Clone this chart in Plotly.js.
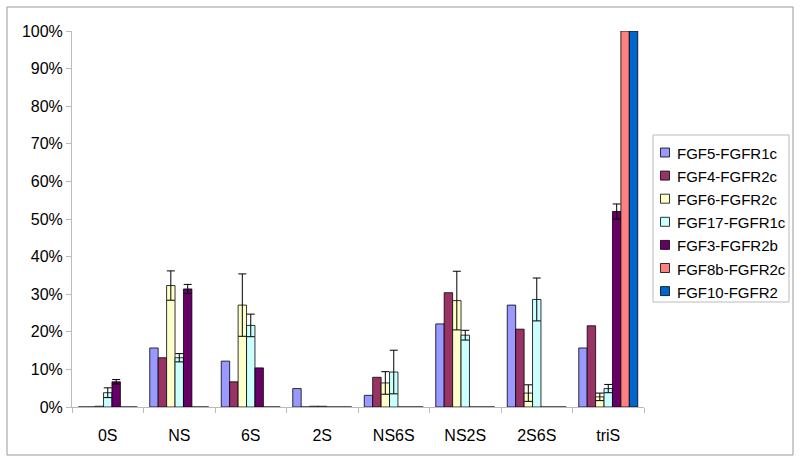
<!DOCTYPE html>
<html>
<head>
<meta charset="utf-8">
<script src="https://cdn.plot.ly/plotly-3.0.1.min.js"></script>
<style>
html,body{margin:0;padding:0;background:#fff;}
#chart{width:800px;height:463px;}
</style>
</head>
<body>
<div id="chart"></div>
<script>
const categories = ["0S","NS","6S","2S","NS6S","NS2S","2S6S","triS"];
const seriesNames = ["FGF5-FGFR1c","FGF4-FGFR2c","FGF6-FGFR2c","FGF17-FGFR1c","FGF3-FGFR2b","FGF8b-FGFR2c","FGF10-FGFR2"];
const seriesColors = ["#9999FF","#993366","#FFFFCC","#CCFFFF","#660066","#FF8080","#0066CC"];
// values in %
const fgf5  = [0,   15.7, 12.2, 4.9, 3.1, 22.1, 27.1, 15.7];
const fgf4  = [0,   13.1, 6.7,  0,   7.9, 30.4, 20.7, 21.6];
const fgf6  = [0.2, 32.3, 27.1, 0.2, 6.4, 28.3, 3.7,  2.7];
const fgf17 = [3.8, 13.1, 21.7, 0.2, 9.3, 19.1, 28.6, 4.9];
const fgf3  = [6.7, 31.4, 10.4, 0,   0,   0,    0,    52.0];
const fgf8b = [0,   0,    0,    0,   0,   0,    0,    100];
const fgf10 = [0,   0,    0,    0,   0,   0,    0,    100];
// error bars in % (null = none)
const err5  = [null,null,null,null,null,null,null,null];
const err4  = [null,null,null,null,null,null,null,null];
const err6  = [null,3.9, 8.3, null,3.0, 7.8, 2.2, 1.0];
const err17 = [1.3, 1.1, 3.0, null,5.8, 1.3, 5.7, 1.1];
const err3  = [0.6, 1.2, null,null,null,null,null,2.0];
const err8b = [null,null,null,null,null,null,null,null];
const err10 = [null,null,null,null,null,null,null,null];
const yTicks = [0,10,20,30,40,50,60,70,80,90,100];

const values = [fgf5,fgf4,fgf6,fgf17,fgf3,fgf8b,fgf10];
const errs = [err5,err4,err6,err17,err3,err8b,err10];

const traces = values.map((v,i)=>{
  const t = {
    type:'bar', name: seriesNames[i], x: categories, y: v.map(d=>d/100),
    marker:{color: seriesColors[i], line:{color:'#000', width:0.8}},
    showlegend:false
  };
  if (errs[i].some(e=>e!==null)) {
    t.error_y = {type:'data', array: errs[i].map(e=>e===null?NaN:e/100), visible:true, color:'#000', thickness:1, width:4, symmetric:true};
  }
  return t;
});

const L=72, R=156, T=31, B=56, W=800, H=463;
const pw = W-L-R, ph = H-T-B;
const px = x => (x-L)/pw;          // pixel -> paper x
const py = y => (H-B-y)/ph;        // pixel -> paper y

// legend drawn with shapes + annotations (box, swatches, labels)
const legBox = {x0:653, x1:789, y0:135, y1:302};
const legFirst = 152.5, legStep = 23.1;
const shapes = [
  {type:'rect', xref:'paper', yref:'paper', x0:px(7), x1:px(793), y0:py(455), y1:py(7),
   line:{color:'#999', width:1}, fillcolor:'rgba(0,0,0,0)', layer:'below'},
  {type:'rect', xref:'paper', yref:'paper', x0:px(legBox.x0), x1:px(legBox.x1), y0:py(legBox.y1), y1:py(legBox.y0),
   line:{color:'#bbb', width:1}, fillcolor:'#fff', layer:'above'}
];
const annotations = [];
seriesNames.forEach((n,i)=>{
  const cy = legFirst + i*legStep;
  shapes.push({type:'rect', xref:'paper', yref:'paper', x0:px(660.5), x1:px(669.5), y0:py(cy+4.5), y1:py(cy-4.5),
    line:{color:'#000', width:0.8}, fillcolor:seriesColors[i], layer:'above'});
  annotations.push({xref:'paper', yref:'paper', x:px(675), y:py(cy+1), xanchor:'left', yanchor:'middle',
    text:n, showarrow:false, font:{size:15, color:'#000'}});
});

const layout = {
  width:W, height:H,
  margin:{l:L, r:R, t:T, b:B, pad:0, autoexpand:false},
  paper_bgcolor:'#fff', plot_bgcolor:'#fff',
  font:{family:'Arial, "Liberation Sans", sans-serif', size:16, color:'#000'},
  barmode:'group', bargap:0.175, bargroupgap:0,
  showlegend:false,
  xaxis:{type:'category', showline:true, linecolor:'#bbb', linewidth:1, ticks:'outside',
    tickson:'boundaries', ticklen:5, tickcolor:'#bbb', showgrid:false, zeroline:false,
    ticklabelstandoff:14, fixedrange:true},
  yaxis:{range:[0,1], tickvals:yTicks.map(d=>d/100), ticktext:yTicks.map(d=>d+'%'),
    showline:true, linecolor:'#bbb', linewidth:1, ticks:'outside', ticklen:5, tickcolor:'#bbb',
    showgrid:false, zeroline:false, fixedrange:true},
  shapes: shapes,
  annotations: annotations
};
Plotly.newPlot('chart', traces, layout, {displayModeBar:false, staticPlot:true});
</script>
</body>
</html>
